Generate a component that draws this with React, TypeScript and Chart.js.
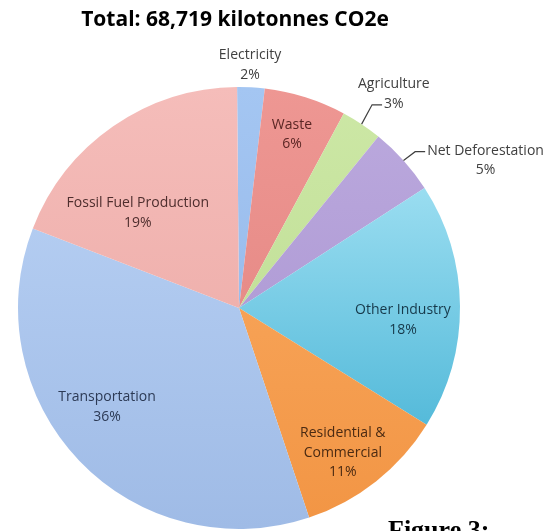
import React, { useEffect, useRef } from "react";
import { Chart, registerables } from "chart.js";

Chart.register(...registerables);

// ---- data ----
const titleText = "Total: 68,719 kilotonnes CO2e";
const categories = [
  "Electricity",
  "Waste",
  "Agriculture",
  "Net Deforestation",
  "Other Industry",
  "Residential & Commercial",
  "Transportation",
  "Fossil Fuel Production",
];
const shares = [2, 6, 3, 5, 18, 11, 36, 19];
// how each category name is broken into lines in its label
const nameLines = [
  ["Electricity"],
  ["Waste"],
  ["Agriculture"],
  ["Net Deforestation"],
  ["Other Industry"],
  ["Residential &", "Commercial"],
  ["Transportation"],
  ["Fossil Fuel Production"],
];

// ---- styles ----
const topColors = ["#a4c6f2", "#ee9793", "#cde8a6", "#bcaade", "#b8ecfa", "#fbae66", "#bcd4f6", "#f5bdba"];
const bottomColors = ["#8fb2e6", "#e0807c", "#b9d98e", "#a690cf", "#36abd0", "#f29544", "#9fbbe6", "#eaa5a1"];
const textColors = ["#404040", "#5a2624", "#404040", "#404040", "#16394a", "#4a2a12", "#2c3a55", "#4e2e2e"];
// label placement: angular shift (deg) from the slice middle, distance as fraction of radius, leader line attached to line index
const placements = [
  { shift: -0.5, r: 1.1, leader: -1 },
  { shift: -0.5, r: 0.82, leader: -1 },
  { shift: 2.2, r: 1.195, leader: 1 },
  { shift: 11, r: 1.3, leader: 0 },
  { shift: 4.7, r: 0.744, leader: -1 },
  { shift: 2.7, r: 0.807, leader: -1 },
  { shift: 6.8, r: 0.747, leader: -1 },
  { shift: -12.1, r: 0.628, leader: -1 },
];
const labelFont = '14px "Open Sans"';
const lineH = 19.5;

const labelPlugin = {
  id: "sliceLabels",
  afterDatasetsDraw(chart: any) {
    const ctx: CanvasRenderingContext2D = chart.ctx;
    const meta = chart.getDatasetMeta(0);
    const area = chart.chartArea;
    ctx.save();
    // title
    ctx.fillStyle = "#000000";
    ctx.font = 'bold 21px "Open Sans"';
    ctx.textAlign = "center";
    ctx.textBaseline = "alphabetic";
    ctx.fillText(titleText, (area.left + area.right) / 2 - 4, 26);

    ctx.font = labelFont;
    ctx.textBaseline = "middle";
    meta.data.forEach((arc: any, i: number) => {
      const p = arc.getProps(["x", "y", "startAngle", "endAngle", "outerRadius"], true);
      const midTrue = (p.startAngle + p.endAngle) / 2;
      const pl = placements[i];
      const a = midTrue + (pl.shift * Math.PI) / 180;
      const cx = p.x + Math.cos(a) * p.outerRadius * pl.r;
      const cy = p.y + Math.sin(a) * p.outerRadius * pl.r;
      const lines = [...nameLines[i], `${shares[i]}%`];
      const y0 = cy - ((lines.length - 1) * lineH) / 2;
      ctx.fillStyle = textColors[i];
      ctx.textAlign = "center";
      lines.forEach((ln, k) => ctx.fillText(ln, cx, y0 + k * lineH));
      if (pl.leader >= 0) {
        const ln = lines[pl.leader];
        const w = ctx.measureText(ln).width;
        const ex = cx - w / 2 - 2;
        const ey = y0 + pl.leader * lineH + 1;
        const sx = p.x + Math.cos(midTrue) * p.outerRadius;
        const sy = p.y + Math.sin(midTrue) * p.outerRadius;
        ctx.strokeStyle = "#404040";
        ctx.lineWidth = 1.2;
        ctx.beginPath();
        ctx.moveTo(sx, sy);
        ctx.lineTo(ex - 10, ey);
        ctx.lineTo(ex, ey);
        ctx.stroke();
      }
    });
    ctx.restore();
  },
};

export default function App() {
  const ref = useRef<HTMLCanvasElement | null>(null);
  useEffect(() => {
    if (!ref.current) return;
    const chart = new Chart(ref.current, {
      type: "pie",
      data: {
        labels: categories,
        datasets: [
          {
            data: shares,
            borderWidth: 0,
            backgroundColor: (c: any) => {
              const ch = c.chart;
              const area = ch.chartArea;
              const i = c.dataIndex;
              if (!area) return topColors[i];
              const g = ch.ctx.createLinearGradient(0, area.top, 0, area.bottom);
              g.addColorStop(0, topColors[i]);
              g.addColorStop(1, bottomColors[i]);
              return g;
            },
          },
        ],
      },
      options: {
        responsive: false,
        animation: false,
        rotation: -0.5,
        layout: { padding: { left: 18, top: 87, right: 93, bottom: 2 } },
        plugins: {
          legend: { display: false },
          title: { display: false },
          tooltip: { enabled: false },
        },
      },
      plugins: [labelPlugin],
    });
    return () => chart.destroy();
  }, []);
  return (
    <div
      style={{
        position: "fixed",
        left: 0,
        top: 0,
        width: 553,
        height: 531,
        overflow: "hidden",
        background: "#ffffff",
      }}
    >
      <canvas ref={ref} width={553} height={531} style={{ position: "absolute", left: 0, top: 0 }} />
      <div
        style={{
          position: "absolute",
          left: 388,
          top: 517,
          font: 'bold 26px "Liberation Serif"',
          lineHeight: "26px",
          color: "#000000",
          whiteSpace: "nowrap",
        }}
      >
        Figure 3:
      </div>
    </div>
  );
}
